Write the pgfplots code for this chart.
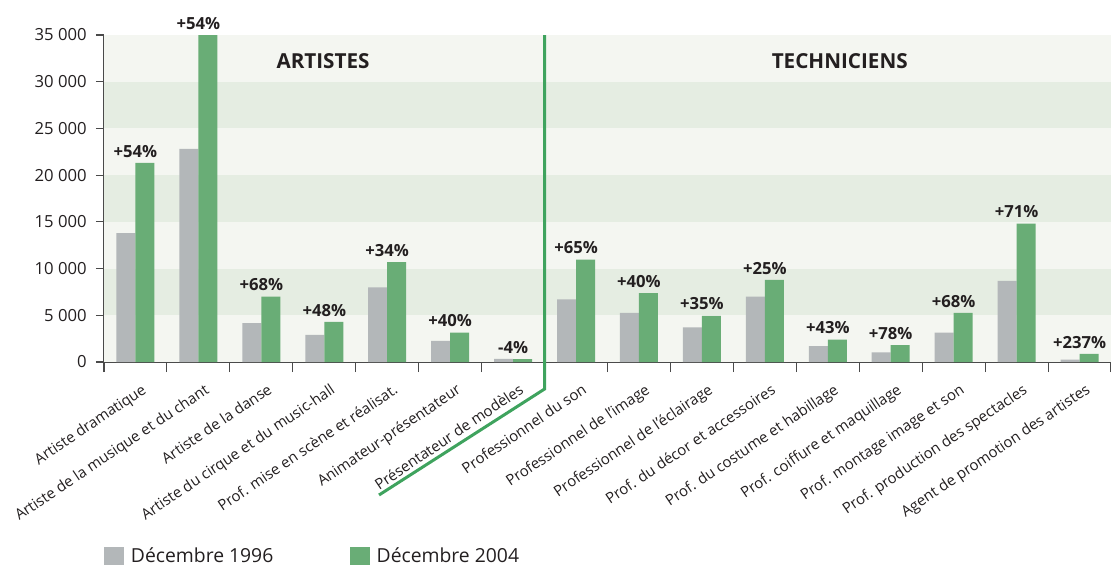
\documentclass[border=0pt]{standalone}
\usepackage{fontspec}
\setmainfont{Open Sans}
\usepackage{pgfplots}
\usepackage{pgfplotstable}
\pgfplotsset{compat=1.18}
\definecolor{bargrey}{HTML}{B3B7B9}
\definecolor{bargreen}{HTML}{69AD76}
\definecolor{bandA}{HTML}{F4F6F1}
\definecolor{bandB}{HTML}{E5EDE2}
\definecolor{divgreen}{HTML}{3FA35E}
\definecolor{txt}{HTML}{231F20}
\definecolor{axgrey}{HTML}{4A4A4A}

\pgfplotstableread{
x  a     b     lab
0  13800 21300 +54\%
1  22800 35000 +54\%
2  4150  6990  +68\%
3  2900  4300  +48\%
4  8000  10700 +34\%
5  2250  3150  +40\%
6  330   317   -4\%
7  6700  10950 +65\%
8  5250  7380  +40\%
9  3700  4950  +35\%
10 7000  8780  +25\%
11 1710  2400  +43\%
12 1020  1820  +78\%
13 3140  5250  +68\%
14 8680  14800 +71\%
15 260   876   +237\%
}\datatable

\begin{document}
\begin{tikzpicture}
\path[use as bounding box] (-78pt,-152.25pt) rectangle (755.25pt,271.5pt);
\begin{axis}[
  scale only axis,
  width=755.25pt, height=245.25pt,
  xmin=-0.5, xmax=15.5,
  ymin=0, ymax=35000,
  clip=false,
  scaled y ticks=false,
  axis x line*=bottom, axis y line*=left,
  x axis line style={-, draw=axgrey, line width=1pt},
  y axis line style={-, draw=axgrey, line width=1pt},
  tick align=outside,
  ytick={0,5000,...,35000},
  yticklabels={0,{5 000},{10 000},{15 000},{20 000},{25 000},{30 000},{35 000}},
  yticklabel style={font=\fontsize{12.5}{14}\selectfont, text=txt, xshift=-3.5pt},
  major y tick style={draw=axgrey, line width=0.8pt},
  major tick length=6pt,
  xtick={0,...,15},
  major x tick style={draw=none},
  minor xtick={-0.5,0.5,...,15.5},
  minor tick length=7.5pt,
  minor x tick style={draw=axgrey, line width=0.8pt},
  xticklabels={{Artiste dramatique},{Artiste de la musique et du chant},{Artiste de la danse},{Artiste du cirque et du music-hall},{Prof. mise en scène et réalisat.},{Animateur-présentateur},{Présentateur de modèles},{Professionnel du son},{Professionnel de l'image},{Professionnel de l'éclairage},{Prof. du décor et accessoires},{Prof. du costume et habillage},{Prof. coiffure et maquillage},{Prof. montage image et son},{Prof. production des spectacles},{Agent de promotion des artistes}},
  xticklabel style={rotate=34, anchor=north east, font=\fontsize{11.2}{13}\selectfont, text=txt, xshift=-1pt, yshift=-9pt, inner sep=1pt},
  ybar=0pt,
  bar width=14.25pt,
  legend columns=2,
  legend cell align=left,
  legend style={at={(axis description cs:0,-0.593)}, anchor=west, draw=none, fill=none, inner sep=0pt,
    font=\fontsize{14.5}{16}\selectfont, text=txt,
    nodes={inner ysep=0.5pt},
    column sep=3pt,
    /tikz/every even column/.append style={column sep=55.5pt}},
  legend image code/.code={\fill[#1, draw=none] (0pt,-6.75pt) rectangle (15pt,6.75pt);},
]
\fill[bandA] (axis cs:-0.5,0) rectangle (axis cs:15.5,35000);
\fill[bandB] (axis cs:-0.5,5000) rectangle (axis cs:15.5,10000);
\fill[bandB] (axis cs:-0.5,15000) rectangle (axis cs:15.5,20000);
\fill[bandB] (axis cs:-0.5,25000) rectangle (axis cs:15.5,30000);
\addplot[fill=bargrey, draw=none] table[x=x, y=a] {\datatable};
\addlegendentry{Décembre 1996}
\addplot[fill=bargreen, draw=none,
  point meta=explicit symbolic,
  nodes near coords,
  every node near coord/.append style={font=\bfseries\fontsize{12.5}{14}\selectfont, text=txt, xshift=-7.125pt, anchor=south, inner sep=1pt, yshift=3pt}
  ] table[x=x, y=b, meta=lab] {\datatable};
\addlegendentry{Décembre 2004}
\draw[divgreen, line width=2.25pt] (axis cs:6.5,35000) -- (axis cs:6.5,-2890) -- (axis cs:3.87,-14235);
\node[font=\bfseries\fontsize{15.5}{17}\selectfont, text=txt] at (axis cs:2.98,32163) {ARTISTES};
\node[font=\bfseries\fontsize{15.5}{17}\selectfont, text=txt] at (axis cs:11.19,32163) {TECHNICIENS};
\end{axis}
\end{tikzpicture}
\end{document}
